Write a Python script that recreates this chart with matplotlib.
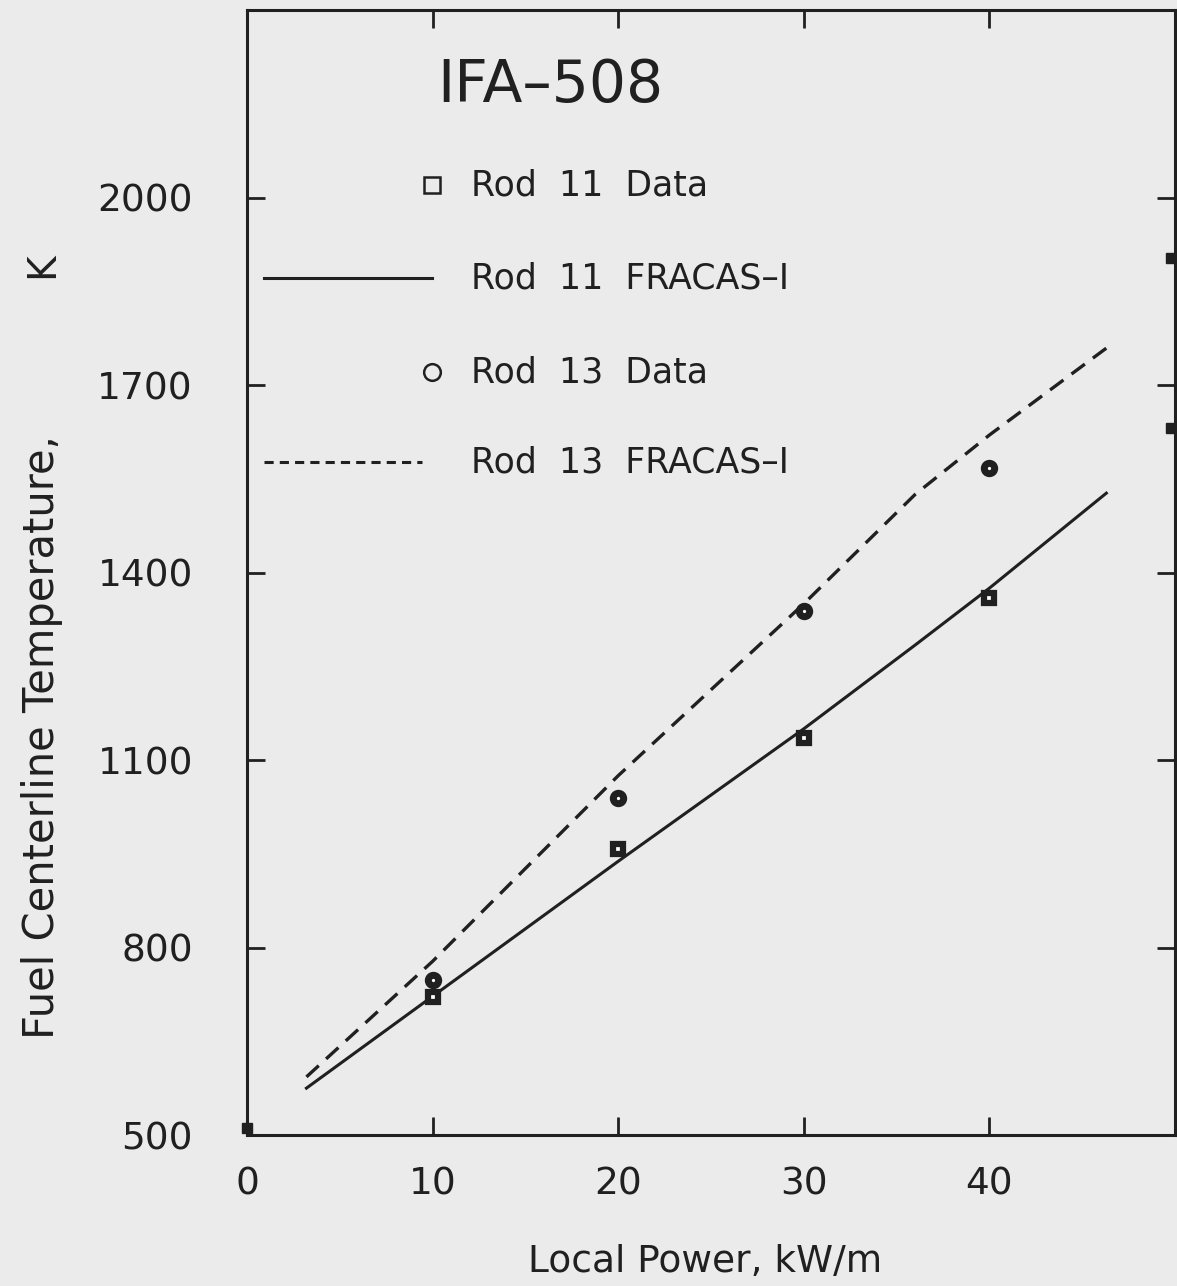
import numpy as np
import matplotlib
matplotlib.use("Agg")
import matplotlib.pyplot as plt

# FRACAS-I calculated curves (local power kW/m, temperature K)
calc_power = [3.2, 10, 20, 30, 36, 40, 46.3]
rod11_calc = [575, 722, 938, 1150, 1284, 1375, 1527]
rod13_calc = [593, 778, 1075, 1350, 1525, 1620, 1759]

# measured centerline temperatures
data_power = [10, 20, 30, 40]
rod11_data = [721, 957, 1135, 1359]
rod13_data = [748, 1039, 1338, 1567]

# stray plotter marks sitting on the frame
stray_power = [0, 49.8, 49.8]
stray_temp = [512, 1904, 1632]

xticks = [0, 10, 20, 30, 40]
yticks = [500, 800, 1100, 1400, 1700, 2000]

ink = "#202020"
paper = "#ebebeb"

plt.rcParams["font.family"] = "DejaVu Sans"

fig = plt.figure(figsize=(11.77, 12.86), dpi=100, facecolor=paper)
ax = fig.add_axes([0.2099, 0.1174, 0.7884, 0.8748], facecolor=paper)

ax.plot(calc_power, rod11_calc, color=ink, lw=2.2)
ax.plot(calc_power, rod13_calc, color=ink, lw=2.4, dashes=(5, 3))
ax.plot(data_power, rod11_data, ls="none", marker="s", ms=7, mfc="white",
        mec=ink, mew=4.5)
ax.plot(data_power, rod13_data, ls="none", marker="o", ms=7.5, mfc="white",
        mec=ink, mew=5)
ax.plot(stray_power, stray_temp, ls="none", marker="s", ms=7, color=ink,
        clip_on=False)

ax.set_xlim(0, 50)
ax.set_ylim(500, 2300)
ax.set_xticks(xticks)
ax.set_yticks(yticks)
ax.tick_params(direction="in", length=13, width=2, top=True, right=True,
               colors=ink, labelsize=27)
ax.tick_params(axis="y", pad=39)
ax.tick_params(axis="x", pad=23)
for s in ax.spines.values():
    s.set_linewidth(2.2)
    s.set_color(ink)

# title and hand-made key inside the frame
ax.text(0.2047, 0.933, "IFA\u2013508", transform=ax.transAxes, fontsize=42,
        color=ink, va="center", ha="left")

key_y = [0.8444, 0.7618, 0.6782, 0.5982]
key_lab = ["Rod  11  Data", "Rod  11  FRACAS\u2013I",
           "Rod  13  Data", "Rod  13  FRACAS\u2013I"]
for y, lab in zip(key_y, key_lab):
    ax.text(0.2414, y, lab, transform=ax.transAxes, fontsize=25, color=ink,
            va="center", ha="left")
ax.plot([0.1994], [key_y[0]], transform=ax.transAxes, marker="s", ms=11,
        mfc="none", mec=ink, mew=1.8)
ax.plot([0.0183, 0.1994], [key_y[1]] * 2, transform=ax.transAxes,
        color=ink, lw=2.2)
ax.plot([0.1994], [key_y[2]], transform=ax.transAxes, marker="o", ms=12,
        mfc="none", mec=ink, mew=1.8)
ax.plot([0.0183, 0.1886], [key_y[3]] * 2, transform=ax.transAxes,
        color=ink, lw=2.2, dashes=(3, 2))

fig.text(0.599, 0.0187, "Local Power, kW/m", fontsize=27, color=ink,
         ha="center", va="center")
fig.text(0.0357, 0.4269, "Fuel Centerline Temperature,", fontsize=30,
         color=ink, rotation=90, ha="center", va="center")
fig.text(0.0357, 0.794, "K", fontsize=28, color=ink, rotation=90,
         ha="center", va="center")

fig.savefig("out.png", dpi=100, facecolor=paper)
